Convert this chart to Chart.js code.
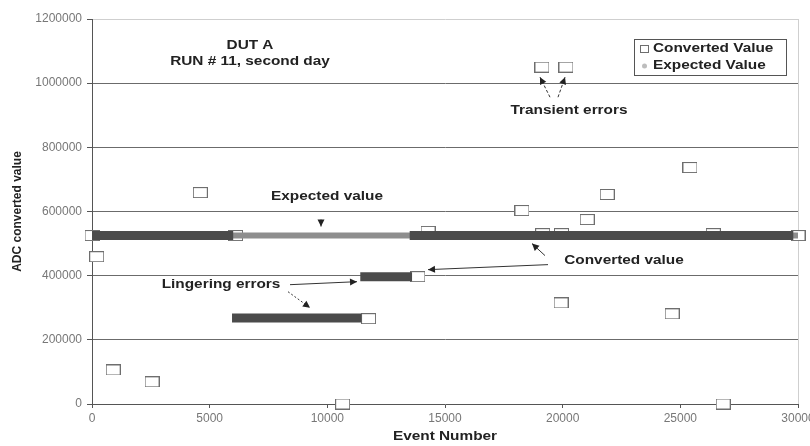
<!DOCTYPE html>
<html>
<head>
<meta charset="utf-8">
<script src="https://cdn.jsdelivr.net/npm/chart.js@4.4.0/dist/chart.umd.min.js"></script>
<style>
  html, body { margin: 0; padding: 0; background: #fff; }
  #wrap { width: 810px; height: 446px; }
</style>
</head>
<body>
<div id="wrap"><canvas id="chart" width="810" height="446"></canvas></div>
<script>
// isolated converted-value readings (event number / ADC value)
const eventNumbers = [0, 200, 900, 2550, 4600, 6100, 10650, 11750, 13850, 14280, 18270, 19120, 19150, 19930, 19950, 20140, 21040, 21890, 24650, 25410, 26400, 26820, 30000];
const convertedValues = [525000, 459000, 106000, 69000, 659000, 525000, 0, 266000, 397000, 538000, 603000, 1050000, 531000, 315000, 531000, 1050000, 575000, 653000, 281000, 737000, 531000, 0, 525000];

// dense runs of converted values (stuck readings)
const runStarts = [0, 13500, 5950, 11400];
const runEnds = [6000, 29800, 11450, 13600];
const runValues = [525000, 525000, 268000, 397000];

// expected value over the run
const expectedEvents = [0, 30000];
const expectedValues = [525000, 525000];

const seriesLabels = ["Converted Value", "Expected Value"];
const yTicks = [0, 200000, 400000, 600000, 800000, 1000000, 1200000];
const xTicks = [0, 5000, 10000, 15000, 20000, 25000, 30000];

const FONT = "'Liberation Sans', Arial, sans-serif";
const STRETCH = 1.28;

function makeSquare(w, h) {
  const c = document.createElement("canvas");
  c.width = w;
  c.height = h;
  const g = c.getContext("2d");
  g.fillStyle = "#fff";
  g.fillRect(0, 0, w, h);
  g.strokeStyle = "#6e6e6e";
  g.lineWidth = 1;
  g.strokeRect(0.5, 0.5, w - 1, h - 1);
  return c;
}
const squareMark = makeSquare(15, 11);

function wideText(ctx, text, x, y, align) {
  ctx.save();
  ctx.translate(x, y);
  ctx.scale(STRETCH, 1);
  ctx.textAlign = align || "center";
  ctx.textBaseline = "middle";
  ctx.fillText(text, 0, 0);
  ctx.restore();
}

function arrow(ctx, x1, y1, x2, y2, dash) {
  ctx.save();
  ctx.strokeStyle = "#333";
  ctx.fillStyle = "#222";
  ctx.lineWidth = 1;
  ctx.setLineDash(dash || []);
  ctx.beginPath();
  ctx.moveTo(x1, y1);
  ctx.lineTo(x2, y2);
  ctx.stroke();
  ctx.setLineDash([]);
  const a = Math.atan2(y2 - y1, x2 - x1);
  const len = 7, half = 3.5;
  ctx.beginPath();
  ctx.moveTo(x2, y2);
  ctx.lineTo(x2 - len * Math.cos(a) + half * Math.sin(a), y2 - len * Math.sin(a) - half * Math.cos(a));
  ctx.lineTo(x2 - len * Math.cos(a) - half * Math.sin(a), y2 - len * Math.sin(a) + half * Math.cos(a));
  ctx.closePath();
  ctx.fill();
  ctx.restore();
}

const annotate = {
  id: "annotate",
  afterDatasetsDraw(chart) {
    const { ctx, scales: { x, y } } = chart;
    const at = (e, v) => [x.getPixelForValue(e), y.getPixelForValue(v)];
    ctx.save();
    ctx.fillStyle = "#222";
    ctx.font = "bold 12px " + FONT;

    let p = at(6714, 1115600);
    wideText(ctx, "DUT A", p[0], p[1]);
    p = at(6714, 1065600);
    wideText(ctx, "RUN # 11, second day", p[0], p[1]);

    p = at(20270, 915600);
    wideText(ctx, "Transient errors", p[0], p[1]);
    let a = at(19462, 956250), b = at(19037, 1018750);
    arrow(ctx, a[0], a[1], b[0], b[1], [3, 2]);
    a = at(19802, 956250); b = at(20100, 1018750);
    arrow(ctx, a[0], a[1], b[0], b[1], [3, 2]);

    p = at(9986, 646900);
    wideText(ctx, "Expected value", p[0], p[1]);
    a = at(9731, 575000); b = at(9731, 553100);
    arrow(ctx, a[0], a[1], b[0], b[1]);

    p = at(22607, 446900);
    wideText(ctx, "Converted value", p[0], p[1]);
    a = at(19250, 462500); b = at(18697, 500000);
    arrow(ctx, a[0], a[1], b[0], b[1]);
    a = at(19377, 434400); b = at(14278, 418750);
    arrow(ctx, a[0], a[1], b[0], b[1]);

    p = at(5482, 371900);
    wideText(ctx, "Lingering errors", p[0], p[1]);
    a = at(8414, 371900); b = at(11261, 381250);
    arrow(ctx, a[0], a[1], b[0], b[1]);
    a = at(8329, 350000); b = at(9264, 300000);
    arrow(ctx, a[0], a[1], b[0], b[1], [2, 2]);

    // x axis title
    wideText(ctx, "Event Number", (x.left + x.right) / 2, 437);

    // legend box
    const lx = 634, ly = 39, lw = 152, lh = 36;
    ctx.strokeStyle = "#555";
    ctx.lineWidth = 1;
    ctx.strokeRect(lx + 0.5, ly + 0.5, lw, lh);
    ctx.fillStyle = "#fff";
    ctx.fillRect(lx + 1, ly + 1, lw - 1, lh - 1);
    ctx.drawImage(makeSquare(9, 8), lx + 6, ly + 6);
    ctx.fillStyle = "#bdbdbd";
    ctx.beginPath();
    ctx.arc(lx + 10.5, ly + 27, 2.5, 0, Math.PI * 2);
    ctx.fill();
    ctx.fillStyle = "#222";
    wideText(ctx, seriesLabels[0], lx + 19, ly + 10, "left");
    wideText(ctx, seriesLabels[1], lx + 19, ly + 27, "left");
    ctx.restore();
  }
};

const runDatasets = runStarts.map((s, i) => ({
  label: seriesLabels[0],
  data: [{ x: s, y: runValues[i] }, { x: runEnds[i], y: runValues[i] }],
  showLine: true,
  borderColor: "#4b4b4b",
  borderWidth: 9,
  borderCapStyle: "butt",
  pointRadius: 0,
  order: 1
}));

new Chart(document.getElementById("chart"), {
  type: "scatter",
  data: {
    datasets: [
      {
        label: seriesLabels[0],
        data: eventNumbers.map((e, i) => ({ x: e, y: convertedValues[i] })),
        pointStyle: squareMark,
        pointRadius: 6,
        clip: false,
        order: 3
      },
      {
        label: seriesLabels[1],
        data: expectedEvents.map((e, i) => ({ x: e, y: expectedValues[i] })),
        showLine: true,
        borderColor: "#8e8e8e",
        borderWidth: 6,
        borderCapStyle: "butt",
        pointRadius: 0,
        order: 2
      },
      ...runDatasets
    ]
  },
  options: {
    responsive: false,
    animation: false,
    devicePixelRatio: 1,
    layout: { padding: { left: 0, top: 19, right: 12, bottom: 0 } },
    plugins: {
      legend: { display: false },
      tooltip: { enabled: false }
    },
    scales: {
      x: {
        type: "linear",
        min: 0,
        max: 30000,
        afterBuildTicks: (s) => { s.ticks = xTicks.map(v => ({ value: v })); },
        afterFit: (s) => { s.height = 42; s.paddingLeft = 0; s.paddingRight = 0; },
        ticks: {
          color: "#777",
          font: { family: FONT, size: 12 },
          padding: 3,
          maxRotation: 0,
          callback: (v) => String(v)
        },
        grid: {
          color: (c) => (c.tick && c.tick.value === 30000 ? "#cfcfcf" : "rgba(0,0,0,0)"),
          tickColor: "#555",
          tickLength: 4
        },
        border: { color: "#555", width: 1 }
      },
      y: {
        min: 0,
        max: 1200000,
        afterBuildTicks: (s) => { s.ticks = yTicks.map(v => ({ value: v })); },
        afterFit: (s) => { s.width = 92; s.paddingTop = 0; s.paddingBottom = 0; },
        ticks: {
          color: "#777",
          font: { family: FONT, size: 12 },
          padding: 5,
          callback: (v) => String(v)
        },
        grid: {
          color: (c) => {
            const v = c.tick && c.tick.value;
            if (v === 1200000) return "#cfcfcf";
            if (v === 0) return "rgba(0,0,0,0)";
            return "#6b6b6b";
          },
          tickColor: "#555",
          tickLength: 5
        },
        border: { color: "#555", width: 1 },
        title: {
          display: true,
          text: "ADC converted value",
          color: "#222",
          font: { family: FONT, size: 12, weight: "bold" },
          padding: { top: 10, bottom: 0 }
        }
      }
    }
  },
  plugins: [annotate]
});
</script>
</body>
</html>
